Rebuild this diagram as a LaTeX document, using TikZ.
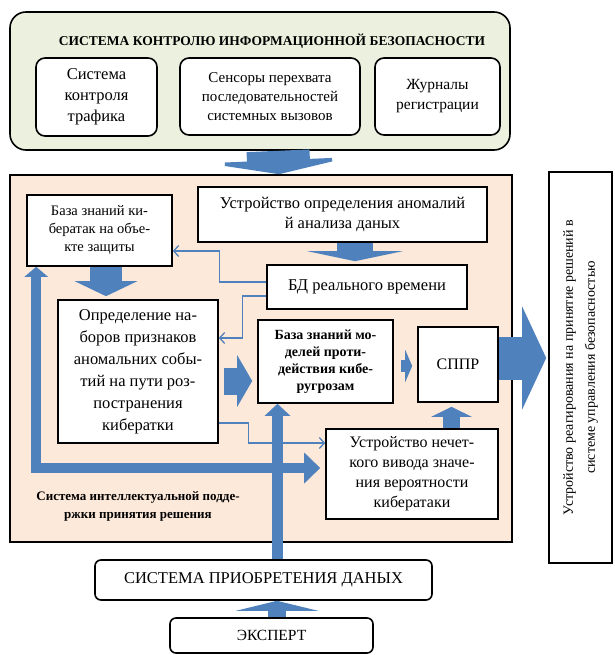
\documentclass[tikz,border=0pt]{standalone}
\usepackage{fontspec}
\setmainfont{Liberation Serif}
\usetikzlibrary{arrows.meta,calc}
\definecolor{arrblue}{HTML}{4F81BD}
\definecolor{topgreen}{HTML}{EBF1DE}
\definecolor{midpeach}{HTML}{FDE9D9}

\begin{document}
\begin{tikzpicture}[x=1pt,y=-1pt,
  box/.style={draw,line width=1.6pt,fill=white,align=center,inner sep=2pt},
  rbox/.style={box,rounded corners=9pt},
  barrow/.style n args={3}{draw=arrblue,line width=#1,-{Triangle[width=#2,length=#3]}},
  tarrow/.style={draw=arrblue,line width=1.3pt,-{Straight Barb[length=5pt,width=11pt]}}]
  \useasboundingbox (0,0) rectangle (614,655);

% control system at top
  \node[rbox,rounded corners=16pt,fill=topgreen,minimum width=500pt,minimum height=138pt] (ctl) at (260,81) {};
  \node[font=\fontsize{13.5}{15}\selectfont\bfseries] (ctltitle) at (272,41) {СИСТЕМА КОНТРОЛЮ ИНФОРМАЦИОННОЙ БЕЗОПАСНОСТИ};
  \node[rbox,minimum width=121pt,minimum height=78pt,font=\fontsize{16.5}{21}\selectfont] (traf) at (96.5,97) {Система\\контроля\\трафика};
  \node[rbox,minimum width=180pt,minimum height=77pt,font=\fontsize{15}{19}\selectfont] (sens) at (270,96.5) {Сенсоры перехвата\\последовательностей\\системных вызовов};
  \node[rbox,minimum width=125pt,minimum height=77pt,font=\fontsize{15.5}{20}\selectfont] (logs) at (437.5,96.5) {Журналы\\регистрации};

% decision support system
  \node[draw,line width=1.6pt,fill=midpeach,minimum width=502pt,minimum height=367pt] (isup) at (261,358.5) {};
  \node[box,minimum width=145pt,minimum height=71pt,font=\fontsize{14.5}{18}\selectfont] (kb) at (99.5,230.5) {База знаний ки-\\бератак на объе-\\кте защиты};
  \node[box,minimum width=289pt,minimum height=55pt,font=\fontsize{16.5}{20}\selectfont] (ids) at (342.5,214.5) {Устройство определения аномалий\\й анализа даных};
  \node[box,minimum width=200pt,minimum height=44pt,font=\fontsize{16.5}{20}\selectfont] (rtdb) at (367,287) {БД реального времени};
  \node[box,minimum width=160pt,minimum height=143pt,font=\fontsize{16.5}{22}\selectfont] (det) at (138,371.5) {Определение на-\\боров признаков\\аномальних собы-\\тий на пути роз-\\постранения\\кибератки};
  \node[box,minimum width=135pt,minimum height=83pt,font=\fontsize{14}{17}\selectfont\bfseries] (ckb) at (325.5,361.5) {База знаний мо-\\делей проти-\\действия кибе-\\ругрозам};
  \node[box,minimum width=80pt,minimum height=75pt,font=\fontsize{16}{20}\selectfont] (dss) at (458,364.5) {СППР};
  \node[box,minimum width=172pt,minimum height=90pt,font=\fontsize{16}{20}\selectfont] (fuzzy) at (412,474) {Устройство нечет-\\кого вивода значе-\\ния вероятности\\кибератаки};
  \node[font=\fontsize{13}{18}\selectfont\bfseries,align=center] (isuplbl) at (138,506) {Система интеллектуальной подде-\\ржки принятия решения};

% response unit at right
  \node[box,minimum width=63pt,minimum height=391pt] (resp) at (580.5,367.5) {};
  \node[rotate=90,align=center,font=\fontsize{14}{22}\selectfont] (resplbl) at (resp.center) {Устройство реагирования на принятие решений в\\системе управления безопасностью};

% data acquisition and expert
  \node[rbox,rounded corners=6pt,minimum width=337pt,minimum height=40pt,font=\fontsize{16.5}{18}\selectfont] (sys) at (263.5,580) {СИСТЕМА ПРИОБРЕТЕНИЯ ДАНЫХ};
  \node[rbox,rounded corners=6pt,minimum width=203pt,minimum height=35pt,font=\fontsize{15.5}{18}\selectfont] (exp) at (271.5,635.5) {ЭКСПЕРТ};

% block arrows
  \draw[barrow={63pt}{143pt}{14pt}] ($(ctl.south)+(18,0)$) -- ($(isup.north)+(18,0)$);
  \coordinate (a1) at ($(ids.south)+(12.5,0)$);
  \draw[barrow={36pt}{95pt}{10pt},shorten >=3pt] (a1) -- (a1 |- rtdb.north);
  \coordinate (a2) at ($(kb.south)+(6.5,0)$);
  \draw[barrow={32pt}{62pt}{15pt},shorten >=3pt] (a2) -- (a2 |- det.north);
  \coordinate (a3) at ($(det.east)+(5,9.5)$);
  \draw[barrow={27pt}{51pt}{15pt},shorten >=5pt] (a3) -- (a3 -| ckb.west);
  \coordinate (a4) at ($(ckb.east)+(7,4.5)$);
  \draw[barrow={12pt}{32pt}{7pt},shorten >=5pt] (a4) -- (a4 -| dss.west);
  \coordinate (a5) at ($(dss.east)+(0,-6.5)$);
  \draw[barrow={43pt}{102pt}{24pt},shorten >=2pt] (a5) -- (a5 -| resp.west);
  \coordinate (a6) at ($(fuzzy.north)+(39.5,0)$);
  \draw[barrow={17pt}{40pt}{10pt},shorten >=4pt] (a6) -- (a6 |- dss.south);
  \coordinate (a7) at ($(sys.north)+(14,0)$);
  \draw[barrow={11pt}{25pt}{12pt}] (a7) -- (a7 |- ckb.south);
  \coordinate (a8) at ($(kb.south west)+(10,0)$);
  \coordinate (a9) at ($(fuzzy.west)+(0,-6)$);
  \draw[draw=arrblue,line width=10pt,line join=miter,
        {Triangle[width=23pt,length=10pt]}-{Triangle[width=30pt,length=16pt]},shorten >=5pt] (a8) |- (a9);
  \coordinate (a10) at ($(exp.north)+(5.5,0)$);
  \draw[barrow={18pt}{82pt}{10pt}] (a10) -- (a10 |- sys.south);

% thin links
  \draw[tarrow] ($(rtdb.west)+(0,-5)$) -- ++(-47,0) |- ($(kb.east)+(0,20.5)$);
  \draw[tarrow] ($(rtdb.west)+(0,9)$) -- ++(-24,0) |- ($(det.east)+(0,-33.5)$);
  \draw[tarrow] ($(det.east)+(0,51.5)$) -- ++(30,0) |- ($(fuzzy.west)+(0,-31)$);
\end{tikzpicture}
\end{document}
